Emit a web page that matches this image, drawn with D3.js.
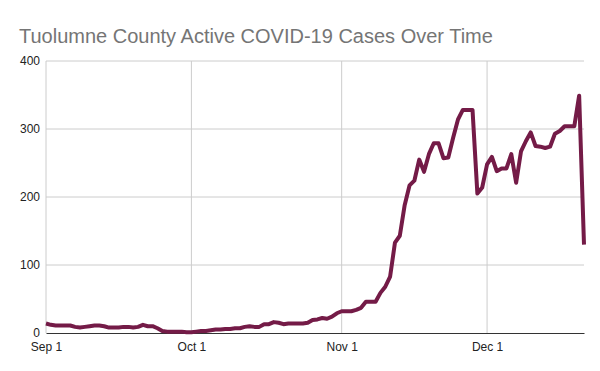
<!DOCTYPE html>
<html lang="en">
<head>
<meta charset="UTF-8"/>
<title>Tuolumne County Active COVID-19 Cases</title>
<script src="https://cdn.jsdelivr.net/npm/d3@7/dist/d3.min.js"></script>
<style>
body { margin: 0; background: #fff; }
svg { display: block; font-family: "Liberation Sans", Arial, sans-serif; }
.grid line { stroke: #ccc; stroke-width: 1px; }
.tick text { fill: #222; font-size: 12px; }
</style>
</head>
<body>
<svg id="chart"></svg>
<script>
// daily active cases, starting Sep 1
var startDate = "2020-09-01";
var activeCases = [
  14, 12, 11, 11, 11, 11, 9, 8, 9, 10,
  11, 11, 10, 8, 8, 8, 9, 9, 8, 9,
  12, 10, 10, 7, 3, 2, 2, 2, 2, 1,
  1, 2, 3, 3, 4, 5, 5, 6, 6, 7,
  7, 9, 10, 9, 9, 13, 13, 16, 15, 13,
  14, 14, 14, 14, 15, 19, 20, 22, 21, 24,
  29, 32, 32, 32, 34, 37, 46, 46, 46, 59,
  68, 83, 133, 143, 188, 217, 224, 255, 237, 263,
  279, 279, 257, 258, 287, 314, 328, 328, 328, 205,
  214, 248, 259, 238, 242, 242, 263, 221, 267, 282,
  295, 275, 274, 272, 274, 293, 297, 304, 304, 304,
  349, 130
];
var yTicks = [0, 100, 200, 300, 400];
var xTickDates = ["2020-09-01", "2020-10-01", "2020-11-01", "2020-12-01"];
var titleText = "Tuolumne County Active COVID-19 Cases Over Time";

var width = 600, height = 371;
var margin = {top: 61, right: 16, bottom: 38, left: 46};

var parse = d3.timeParse("%Y-%m-%d");
var start = parse(startDate);
var data = activeCases.map(function(v, i) {
  return {date: d3.timeDay.offset(start, i), value: v};
});

var svg = d3.select("#chart")
  .attr("width", width)
  .attr("height", height);

var x = d3.scaleTime()
  .domain([start, data[data.length - 1].date])
  .range([margin.left, width - margin.right]);

var y = d3.scaleLinear()
  .domain([0, 400])
  .range([height - margin.bottom, margin.top]);

svg.append("text")
  .attr("x", 19)
  .attr("y", 43)
  .attr("fill", "#757575")
  .style("font-size", "20px")
  .text(titleText);

// horizontal grid
svg.append("g")
  .attr("class", "grid")
  .selectAll("line")
  .data(yTicks.slice(1))
  .enter().append("line")
  .attr("x1", margin.left)
  .attr("x2", width - margin.right)
  .attr("y1", function(d) { return y(d); })
  .attr("y2", function(d) { return y(d); });

// vertical grid
svg.append("g")
  .attr("class", "grid")
  .selectAll("line")
  .data(xTickDates.map(parse))
  .enter().append("line")
  .attr("x1", function(d) { return x(d); })
  .attr("x2", function(d) { return x(d); })
  .attr("y1", margin.top)
  .attr("y2", height - margin.bottom);

// y axis labels
var yAxis = svg.append("g")
  .attr("transform", "translate(" + margin.left + ",0)")
  .call(d3.axisLeft(y).tickValues(yTicks).tickSize(0).tickPadding(6));
yAxis.select(".domain").remove();

// x axis
var xAxis = svg.append("g")
  .attr("transform", "translate(0," + (height - margin.bottom) + ")")
  .call(d3.axisBottom(x)
    .tickValues(xTickDates.map(parse))
    .tickFormat(d3.timeFormat("%b %-d"))
    .tickSize(0)
    .tickPadding(9));
xAxis.select(".domain").attr("stroke", "#333");

var line = d3.line()
  .x(function(d) { return x(d.date); })
  .y(function(d) { return y(d.value); });

svg.append("path")
  .datum(data)
  .attr("fill", "none")
  .attr("stroke", "#741b47")
  .attr("stroke-width", 4)
  .attr("stroke-linejoin", "round")
  .attr("d", line);
</script>
</body>
</html>
